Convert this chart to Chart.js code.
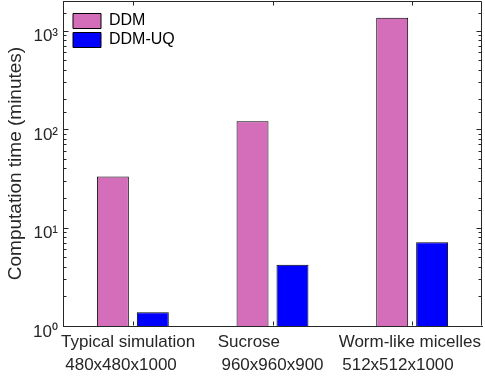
<!DOCTYPE html>
<html><head><meta charset="utf-8">
<script src="https://cdn.jsdelivr.net/npm/chart.js@4.4.0/dist/chart.umd.min.js"></script>
<style>html,body{margin:0;padding:0;background:#fff;overflow:hidden}</style>
</head><body>
<canvas id="c" width="485" height="382" style="display:block;width:485px;height:382px"></canvas>
<script>
// ---- data ----
const categoryNames = ['Typical simulation', 'Sucrose', 'Worm-like micelles'];
const categorySizes = ['480x480x1000', '960x960x900', '512x512x1000'];
const seriesNames = ['DDM', 'DDM-UQ'];
const ddmMinutes = [33, 120, 1350];
const ddmUqMinutes = [1.38, 4.2, 7.1];
const yTickValues = [1, 10, 100, 1000];
const yTickLabels = ['10⁰', '10¹', '10²', '10³'];

// ---- layout helpers (not data) ----
const FONT = "'Liberation Sans', Arial, Helvetica, sans-serif";
const AXIS = '#262626';
const padSpaces = [[2, 5], [10, 0], [1, 6]]; // trailing spaces to mimic original label alignment
const labels = categoryNames.map((n, i) => [
  n + ' '.repeat(padSpaces[i][0]),
  categorySizes[i] + ' '.repeat(padSpaces[i][1])
]);

const frame = {
  id: 'frame',
  afterLayout(chart) {
    const lg = chart.legend;
    if (lg) { lg.left = chart.chartArea.left + 7; lg.top = chart.chartArea.top + 9; }
  },
  afterDraw(chart) {
    const {ctx, chartArea: a, scales: {x, y}} = chart;
    const L = Math.round(a.left) + 0.5, R = Math.round(a.right) - 0.5;
    const T = Math.round(a.top) + 0.5, B = Math.round(a.bottom) - 0.5;
    ctx.save();
    ctx.strokeStyle = AXIS; ctx.lineWidth = 1;
    ctx.beginPath();
    ctx.moveTo(L, T); ctx.lineTo(R, T); ctx.lineTo(R, B);
    ctx.stroke();
    y.ticks.forEach(t => {
      const e = Math.log10(t.value);
      const major = Math.abs(e - Math.round(e)) < 1e-9;
      const py = Math.round(y.getPixelForValue(t.value)) + 0.5;
      if (py < a.top + 1) return;
      const len = major ? 5 : 3;
      ctx.beginPath();
      ctx.moveTo(L, py); ctx.lineTo(L + len, py);
      ctx.moveTo(R, py); ctx.lineTo(R - len, py);
      ctx.stroke();
    });
    labels.forEach((_, i) => {
      const px = Math.round(x.getPixelForValue(i)) + 0.5;
      ctx.beginPath();
      ctx.moveTo(px, B); ctx.lineTo(px, B - 4);
      ctx.moveTo(px, T); ctx.lineTo(px, T + 4);
      ctx.stroke();
    });
    ctx.restore();
  }
};

new Chart(document.getElementById('c'), {
  type: 'bar',
  data: {
    labels: labels,
    datasets: [
      { label: seriesNames[0], data: ddmMinutes, backgroundColor: '#D46EBB', borderColor: '#000', borderWidth: 1,
        categoryPercentage: 0.572, barPercentage: 0.8 },
      { label: seriesNames[1], data: ddmUqMinutes, backgroundColor: '#0000FF', borderColor: '#000', borderWidth: 1,
        categoryPercentage: 0.572, barPercentage: 0.8 }
    ]
  },
  options: {
    responsive: false, animation: false, devicePixelRatio: 1,
    layout: { padding: { top: 1, right: 3, left: 0, bottom: 0 } },
    plugins: {
      legend: {
        position: 'chartArea', align: 'start',
        labels: { boxWidth: 28, boxHeight: 15, padding: 3, color: '#000', font: { family: FONT, size: 16 } }
      },
      tooltip: { enabled: false }
    },
    scales: {
      x: {
        offset: true,
        grid: { display: false, drawTicks: false },
        border: { display: true, color: AXIS, width: 1 },
        ticks: { autoSkip: false, maxRotation: 0, minRotation: 0, padding: 4, color: AXIS,
                 font: { family: FONT, size: 17, lineHeight: 1.4 } },
        afterFit(s) { s.height = 56; s.paddingLeft = 0; s.paddingRight = 0; }
      },
      y: {
        type: 'logarithmic', min: 1, max: 2000,
        grid: { display: false, drawTicks: false },
        border: { display: true, color: AXIS, width: 1 },
        ticks: {
          autoSkip: false, padding: 5, labelOffset: 6, color: AXIS,
          font: { family: FONT, size: 17 },
          callback(v) {
            const i = yTickValues.findIndex(t => Math.abs(t - v) < 1e-6 * t);
            return i >= 0 ? yTickLabels[i] : '';
          }
        },
        title: { display: true, text: 'Computation time (minutes)', color: AXIS,
                 font: { family: FONT, size: 19 }, padding: { top: 4, bottom: 0 } },
        afterFit(s) { s.width = 63; s.paddingTop = 0; s.paddingBottom = 0; }
      }
    }
  },
  plugins: [frame]
});
</script>
</body></html>
